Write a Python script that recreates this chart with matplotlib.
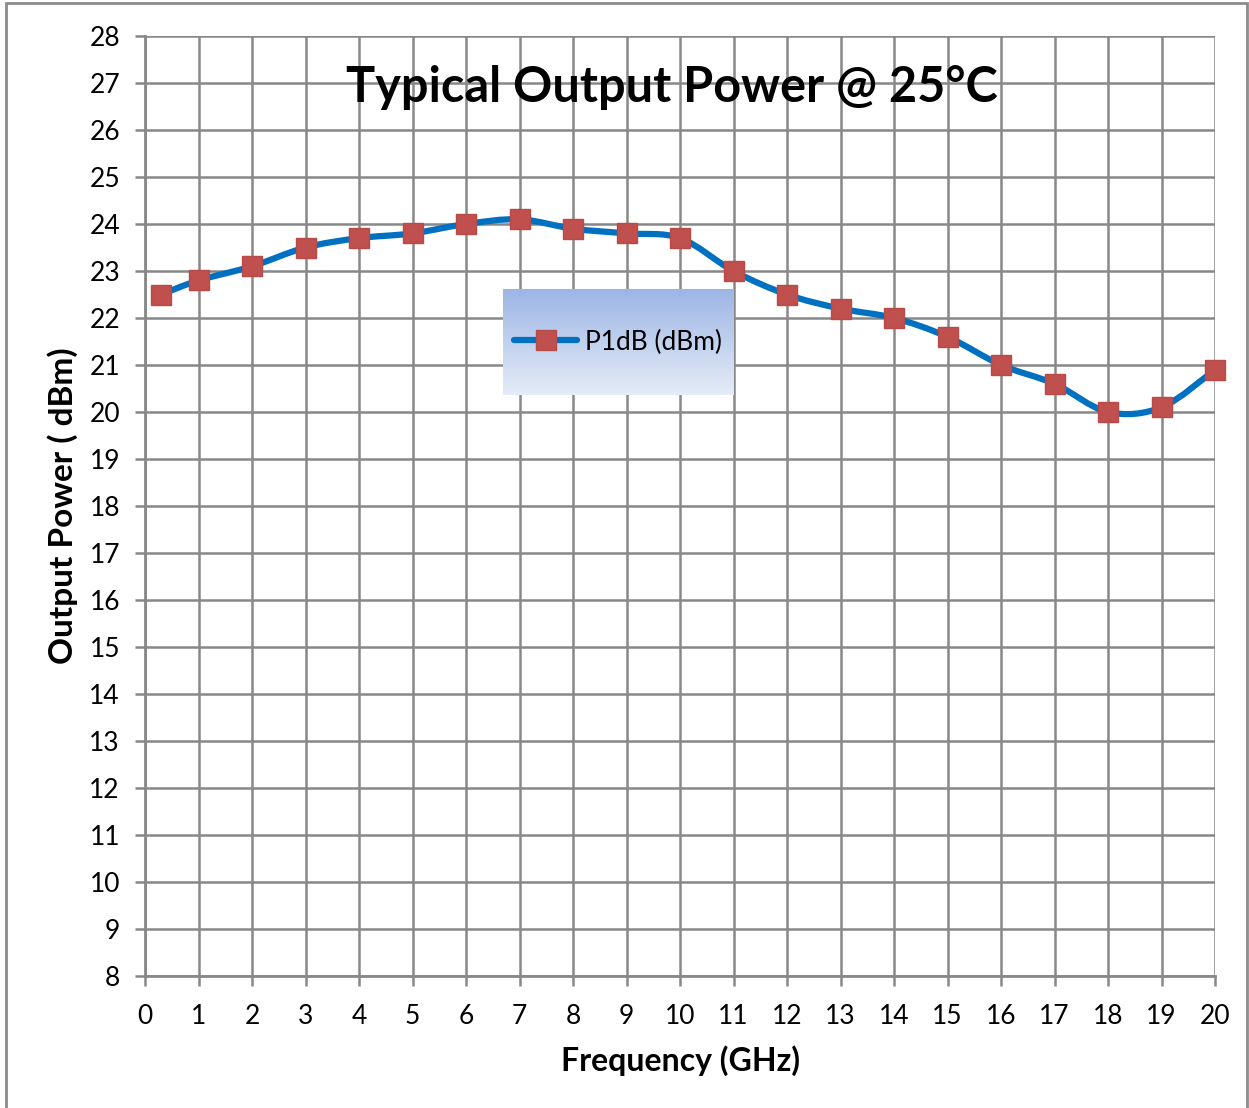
import numpy as np
import matplotlib.pyplot as plt
from matplotlib.path import Path
from matplotlib.patches import PathPatch, Rectangle
from matplotlib.lines import Line2D
from matplotlib.colors import LinearSegmentedColormap

freq = [0.3, 1, 2, 3, 4, 5, 6, 7, 8, 9, 10, 11, 12, 13, 14, 15, 16, 17, 18, 19, 20]
p1db = [22.5, 22.8, 23.1, 23.5, 23.7, 23.8, 24.0, 24.1, 23.9, 23.8, 23.7,
        23.0, 22.5, 22.2, 22.0, 21.6, 21.0, 20.6, 20.0, 20.1, 20.9]
xticks = list(range(0, 21))
yticks = list(range(8, 29))

plt.rcParams['font.family'] = ['Lato', 'DejaVu Sans']

fig = plt.figure(figsize=(12.49, 11.08), dpi=100)
fig.patches.append(Rectangle((0.005, -0.01), 0.993, 1.007, transform=fig.transFigure,
                             fill=False, edgecolor='#8c8c8c', linewidth=2))
ax = fig.add_axes([0.1161, 0.1191, 0.8567, 0.8484])

# smoothed line like Excel (bezier through the points)
pts = np.column_stack([freq, p1db])
verts = [pts[0]]
codes = [Path.MOVETO]
n = len(pts)
for i in range(n - 1):
    p0 = pts[i - 1] if i > 0 else pts[i]
    p1 = pts[i]
    p2 = pts[i + 1]
    p3 = pts[i + 2] if i + 2 < n else pts[i + 1]
    c1 = p1 + (p2 - p0) / 6
    c2 = p2 - (p3 - p1) / 6
    verts += [c1, c2, p2]
    codes += [Path.CURVE4] * 3
ax.add_patch(PathPatch(Path(verts, codes), facecolor='none', edgecolor='#0070C0',
                       linewidth=4.5, zorder=3, capstyle='round', clip_on=False))
ax.plot(freq, p1db, linestyle='none', marker='s', markersize=15,
        markerfacecolor='#C0504D', markeredgecolor='#B84A47', zorder=4, clip_on=False)

ax.set_xlim(0, 20)
ax.set_ylim(8, 28)
ax.set_xticks(xticks)
ax.set_yticks(yticks)
ax.grid(True, color='#888888', linewidth=1.8)
ax.set_axisbelow(True)
for s in ['top', 'right']:
    ax.spines[s].set_visible(False)
for s in ['left', 'bottom']:
    ax.spines[s].set_color('#888888')
    ax.spines[s].set_linewidth(2)
ax.tick_params(length=7, width=1.8, color='#888888', labelsize=19)
ax.tick_params(axis='x', pad=13)
ax.tick_params(axis='y', pad=11)

ax.text(9.85, 26.9, 'Typical Output Power @ 25°C', ha='center', va='center',
        fontsize=35, fontweight='bold')
ax.set_xlabel('Frequency (GHz)', fontsize=23, fontweight='bold', labelpad=12)
ax.set_ylabel('Output Power ( dBm)', fontsize=24, fontweight='bold', labelpad=8)

# legend with gradient box
lax = fig.add_axes([0.4027, 0.6435, 0.1842, 0.0957])
grad = np.linspace(0, 1, 256).reshape(-1, 1)
cmap = LinearSegmentedColormap.from_list('g', ['#9bb5e4', '#e6ecf8'])
lax.imshow(grad, aspect='auto', cmap=cmap, extent=[0, 1, 0, 1])
lax.set_axis_off()
handle = Line2D([], [], color='#0070C0', linewidth=4.5, marker='s', markersize=15,
                markerfacecolor='#C0504D', markeredgecolor='#B84A47', solid_capstyle='round')
lax.legend([handle], ['P1dB (dBm)'], loc='center', frameon=False, fontsize=19,
           handlelength=2.4, handletextpad=0.3)

fig.savefig('out.png', dpi=100)
